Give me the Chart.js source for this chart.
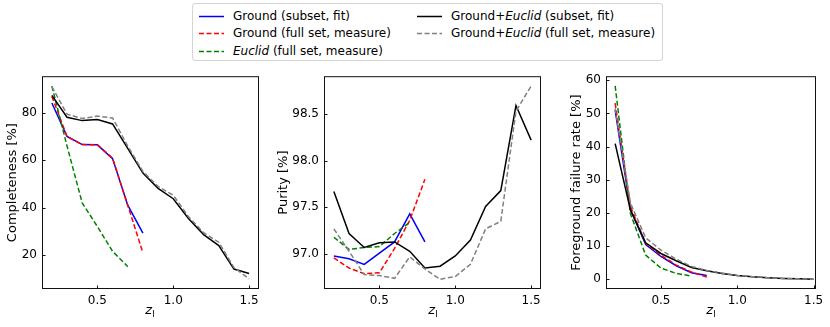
<!DOCTYPE html>
<html>
<head>
<meta charset="utf-8">
<script src="https://cdn.jsdelivr.net/npm/chart.js@4.4.1/dist/chart.umd.min.js"></script>
<style>
  body { margin: 0; background: #fff; font-family: 'DejaVu Sans', sans-serif; }
  #fig { position: relative; width: 830px; height: 327px; overflow: hidden; }
  #fig canvas { position: absolute; top: 64px; }
  .legend { position: absolute; left: 192px; top: 3px; width: 469px; height: 56px;
            border: 1px solid #d4d4d4; border-radius: 3px; background: rgba(255,255,255,0.85); z-index: 2; }
  .item { position: absolute; height: 14px; font-size: 12px; line-height: 14px; white-space: nowrap; color: #000; z-index: 3; }
  .item svg { position: absolute; left: 0; top: 6px; }
  .item span { position: absolute; left: 34px; top: 0; }
  .xt { position: absolute; top: 303px; font-size: 13px; line-height: 14px; transform: translateX(-50%); white-space: nowrap; }
  .xt sub { font-size: 9px; vertical-align: -3px; }
</style>
</head>
<body>
<div id="fig">
  <canvas id="c1"></canvas>
  <canvas id="c2"></canvas>
  <canvas id="c3"></canvas>
  <div class="legend"></div>
  <div class="xt" style="left:150px"><i>z</i><sub>l</sub></div>
  <div class="xt" style="left:433px"><i>z</i><sub>l</sub></div>
  <div class="xt" style="left:711px"><i>z</i><sub>l</sub></div>
</div>
<script>
// lens redshift bins
const zAll = [0.2, 0.3, 0.4, 0.5, 0.6, 0.7, 0.8, 0.9, 1.0, 1.1, 1.2, 1.3, 1.4, 1.5];
const zGround = zAll.slice(0, 7);
const zEuclid = zAll.slice(0, 6);
const xTicks = [0.5, 1.0, 1.5];

const seriesLabels = ['Ground (subset, fit)', 'Ground (full set, measure)', 'Euclid (full set, measure)',
                      'Ground+Euclid (subset, fit)', 'Ground+Euclid (full set, measure)'];
const seriesColors = ['#0000ff', '#ff0000', '#008000', '#000000', '#808080'];
const seriesDashed = [false, true, true, false, true];

// Completeness [%]
const compGroundFit  = [84.1, 70.0, 66.6, 66.5, 60.7, 41.1, 29.3];
const compGroundFull = [86.9, 70.0, 66.6, 66.5, 60.9, 41.1, 21.0];
const compEuclidFull = [91.2, 66.0, 42.0, 32.1, 21.7, 15.2];
const compBothFit    = [87.3, 78.1, 76.7, 77.2, 75.3, 65.0, 54.6, 48.2, 43.8, 35.5, 28.7, 24.1, 14.2, 12.3];
const compBothFull   = [91.0, 79.4, 77.6, 78.6, 77.8, 66.0, 55.3, 49.0, 45.3, 36.3, 29.5, 25.5, 14.8, 10.1];
const compTicks = [20, 40, 60, 80];

// Purity [%]
const purGroundFit  = [96.98, 96.95, 96.89, 97.01, 97.13, 97.43, 97.13];
const purGroundFull = [96.96, 96.85, 96.79, 96.80, 97.06, 97.36, 97.80];
const purEuclidFull = [97.18, 97.05, 97.07, 97.08, 97.22, 97.34];
const purBothFit    = [97.67, 97.22, 97.07, 97.12, 97.13, 97.03, 96.85, 96.87, 96.98, 97.15, 97.51, 97.68, 98.59, 98.22];
const purBothFull   = [97.27, 97.03, 96.78, 96.77, 96.74, 96.97, 96.84, 96.73, 96.76, 96.89, 97.27, 97.35, 98.53, 98.80];
const purTicks = [97.0, 97.5, 98.0, 98.5];

// Foreground failure rate [%]
const ffrGroundFit  = [51.0, 21.0, 10.5, 6.9, 4.1, 2.0, 1.2];
const ffrGroundFull = [53.1, 22.0, 10.8, 7.3, 4.3, 2.2, 0.7];
const ffrEuclidFull = [58.3, 19.8, 7.3, 3.4, 1.8, 1.0];
const ffrBothFit    = [40.9, 20.9, 11.0, 7.8, 5.6, 3.6, 2.6, 1.8, 1.2, 0.8, 0.5, 0.3, 0.15, 0.05];
const ffrBothFull   = [51.5, 23.0, 12.5, 8.8, 6.1, 3.9, 2.7, 1.9, 1.2, 0.8, 0.5, 0.3, 0.15, 0.05];
const ffrTicks = [0, 10, 20, 30, 40, 50, 60];

Chart.defaults.font.family = "'DejaVu Sans', sans-serif";
Chart.defaults.color = '#000';

// legend (html, so Euclid can be italic)
const legendRows = [15.7, 33.3, 50.7];
const fig = document.getElementById('fig');
seriesLabels.forEach(function(label, i) {
    const col = i < 3 ? 0 : 1;
    const row = i < 3 ? i : i - 3;
    const el = document.createElement('div');
    el.className = 'item';
    el.style.left = (col === 0 ? 199 : 417) + 'px';
    el.style.top = (legendRows[row] - 7) + 'px';
    el.innerHTML = '<svg width="25" height="3"><line x1="0" y1="1.5" x2="25" y2="1.5" stroke="' + seriesColors[i] +
        '" stroke-width="1.5"' + (seriesDashed[i] ? ' stroke-dasharray="5,2.5"' : '') + '/></svg>' +
        '<span>' + label.replace('Euclid', '<i>Euclid</i>') + '</span>';
    fig.appendChild(el);
});

// matplotlib-like frame with inward ticks
const framePlugin = {
    id: 'frame',
    afterDraw(chart) {
        const {ctx, chartArea: a, scales} = chart;
        ctx.save();
        ctx.strokeStyle = '#111';
        ctx.lineWidth = 1;
        ctx.strokeRect(a.left + 0.5, a.top + 0.5, a.width - 1, a.height - 1);
        ctx.beginPath();
        scales.x.ticks.forEach(function(t) {
            const px = Math.round(scales.x.getPixelForValue(t.value)) + 0.5;
            ctx.moveTo(px, a.bottom);
            ctx.lineTo(px, a.bottom - 3.5);
        });
        scales.y.ticks.forEach(function(t) {
            const py = Math.round(scales.y.getPixelForValue(t.value)) + 0.5;
            ctx.moveTo(a.left, py);
            ctx.lineTo(a.left + 3.5, py);
        });
        ctx.stroke();
        ctx.restore();
    }
};

function makePanel(id, opt) {
    const canvas = document.getElementById(id);
    canvas.width = opt.plotW + opt.axisW + opt.padRight;
    canvas.height = 263;
    canvas.style.left = (opt.left - opt.axisW) + 'px';

    const xs = [zGround, zGround, zEuclid, zAll, zAll];
    const datasets = opt.values.map(function(vals, i) {
        return {
            label: seriesLabels[i],
            data: vals.map(function(v, k) { return {x: xs[i][k], y: v}; }),
            borderColor: seriesColors[i],
            borderWidth: 1.5,
            borderDash: seriesDashed[i] ? [5, 2.5] : [],
            pointRadius: 0,
            tension: 0,
            fill: false,
            order: 5 - i
        };
    });

    new Chart(canvas, {
        type: 'line',
        data: {datasets: datasets},
        options: {
            responsive: false,
            animation: false,
            layout: {padding: {top: 8, right: opt.padRight, bottom: 0, left: 0}},
            plugins: {legend: {display: false}, tooltip: {enabled: false}},
            scales: {
                x: {
                    type: 'linear',
                    min: opt.xMin, max: opt.xMax,
                    grid: {display: false, drawTicks: false},
                    border: {display: false},
                    afterBuildTicks: function(s) { s.ticks = xTicks.map(function(v) { return {value: v}; }); },
                    afterFit: function(s) { s.height = 38; },
                    ticks: {padding: 5, font: {size: 12}, maxRotation: 0,
                            callback: function(v) { return v.toFixed(1); }}
                },
                y: {
                    type: 'linear',
                    min: opt.yMin, max: opt.yMax,
                    grid: {display: false, drawTicks: false},
                    border: {display: false},
                    afterBuildTicks: function(s) { s.ticks = opt.yTicks.map(function(v) { return {value: v}; }); },
                    afterFit: function(s) { s.width = opt.axisW; },
                    ticks: {padding: 5, font: {size: 12},
                            callback: function(v) { return opt.decimals ? v.toFixed(opt.decimals) : String(v); }},
                    title: {display: true, text: opt.yTitle, font: {size: 13}, padding: {top: 5, bottom: 0}}
                }
            }
        },
        plugins: [framePlugin]
    });
}

makePanel('c1', {left: 42, plotW: 217, axisW: 42, padRight: 6, xMin: 0.135, xMax: 1.565,
    yMin: 5.8, yMax: 95.4, yTicks: compTicks, decimals: 0, yTitle: 'Completeness [%]',
    values: [compGroundFit, compGroundFull, compEuclidFull, compBothFit, compBothFull]});
makePanel('c2', {left: 324, plotW: 217, axisW: 53, padRight: 6, xMin: 0.135, xMax: 1.565,
    yMin: 96.626, yMax: 98.904, yTicks: purTicks, decimals: 1, yTitle: 'Purity [%]',
    values: [purGroundFit, purGroundFull, purEuclidFull, purBothFit, purBothFull]});
makePanel('c3', {left: 606, plotW: 210, axisW: 42, padRight: 14, xMin: 0.14, xMax: 1.516,
    yMin: -2.9, yMax: 61.2, yTicks: ffrTicks, decimals: 0, yTitle: 'Foreground failure rate [%]',
    values: [ffrGroundFit, ffrGroundFull, ffrEuclidFull, ffrBothFit, ffrBothFull]});
</script>
</body>
</html>
